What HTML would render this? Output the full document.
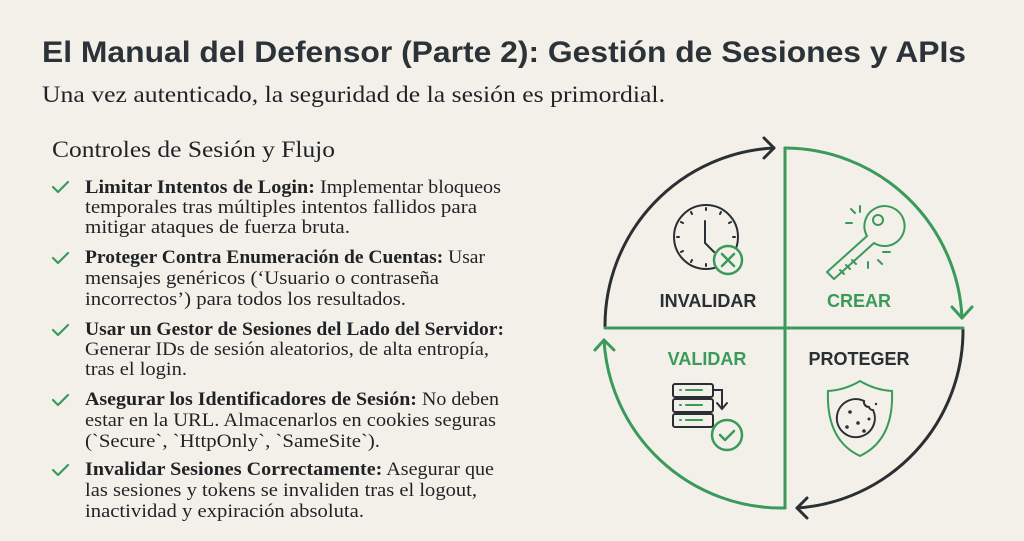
<!DOCTYPE html>
<html><head><meta charset="utf-8"><style>
html,body{margin:0;padding:0;background:#f3f0e9;}
svg{display:block}
.s{font-family:"Liberation Serif",serif;fill:#1f2326}
</style></head><body>
<svg width="1024" height="541" viewBox="0 0 1024 541" xmlns="http://www.w3.org/2000/svg">
<rect width="1024" height="541" fill="#f3f0e9"/>
<text x="42" y="62" font-family="Liberation Sans,sans-serif" font-weight="bold" font-size="30" fill="#2b3238" textLength="924" lengthAdjust="spacingAndGlyphs">El Manual del Defensor (Parte 2): Gestión de Sesiones y APIs</text>
<text x="42" y="102" class="s" font-size="23" textLength="623" lengthAdjust="spacingAndGlyphs">Una vez autenticado, la seguridad de la sesión es primordial.</text>
<text x="52" y="157" class="s" font-size="23" textLength="283" lengthAdjust="spacingAndGlyphs">Controles de Sesión y Flujo</text>
<g fill="none" stroke="#3a9a5a" stroke-width="2.2" stroke-linecap="round" stroke-linejoin="round">
<path d="M53 187 l5 5 l10 -10"/><path d="M53 258 l5 5 l10 -10"/><path d="M53 330 l5 5 l10 -10"/><path d="M53 400 l5 5 l10 -10"/><path d="M53 470 l5 5 l10 -10"/>
</g>
<g class="s" font-size="19" lengthAdjust="spacingAndGlyphs">
<text x="85" y="193" textLength="416" lengthAdjust="spacingAndGlyphs"><tspan font-weight="bold">Limitar Intentos de Login:</tspan> Implementar bloqueos</text>
<text x="85" y="213" textLength="392" lengthAdjust="spacingAndGlyphs">temporales tras múltiples intentos fallidos para</text>
<text x="85" y="233" textLength="265" lengthAdjust="spacingAndGlyphs">mitigar ataques de fuerza bruta.</text>
<text x="85" y="263" textLength="400" lengthAdjust="spacingAndGlyphs"><tspan font-weight="bold">Proteger Contra Enumeración de Cuentas:</tspan> Usar</text>
<text x="85" y="284" textLength="354" lengthAdjust="spacingAndGlyphs">mensajes genéricos (‘Usuario o contraseña</text>
<text x="85" y="305" textLength="321" lengthAdjust="spacingAndGlyphs">incorrectos’) para todos los resultados.</text>
<text x="85" y="335" font-weight="bold" textLength="419" lengthAdjust="spacingAndGlyphs">Usar un Gestor de Sesiones del Lado del Servidor:</text>
<text x="85" y="355" textLength="404" lengthAdjust="spacingAndGlyphs">Generar IDs de sesión aleatorios, de alta entropía,</text>
<text x="85" y="375" textLength="102" lengthAdjust="spacingAndGlyphs">tras el login.</text>
<text x="85" y="405" textLength="414" lengthAdjust="spacingAndGlyphs"><tspan font-weight="bold">Asegurar los Identificadores de Sesión:</tspan> No deben</text>
<text x="85" y="426" textLength="411" lengthAdjust="spacingAndGlyphs">estar en la URL. Almacenarlos en cookies seguras</text>
<text x="85" y="447" textLength="295" lengthAdjust="spacingAndGlyphs">(`Secure`, `HttpOnly`, `SameSite`).</text>
<text x="85" y="475" textLength="409" lengthAdjust="spacingAndGlyphs"><tspan font-weight="bold">Invalidar Sesiones Correctamente:</tspan> Asegurar que</text>
<text x="85" y="496" textLength="392" lengthAdjust="spacingAndGlyphs">las sesiones y tokens se invaliden tras el logout,</text>
<text x="85" y="517" textLength="279" lengthAdjust="spacingAndGlyphs">inactividad y expiración absoluta.</text>
</g>
<g fill="none" stroke-width="3" stroke-linecap="round" stroke-linejoin="round">
<path d="M605 326 A178 178 0 0 1 774 148" stroke="#2a2f33"/>
<path d="M764 138 l10 10 l-10 10" stroke="#2a2f33"/>
<path d="M785 148 A178 178 0 0 1 962 318" stroke="#3a9a5a"/>
<path d="M952 307 l10 11 l10 -11" stroke="#3a9a5a"/>
<path d="M963 330 A178 178 0 0 1 797 508" stroke="#2a2f33"/>
<path d="M807 498 l-10 10 l10 10" stroke="#2a2f33"/>
<path d="M785 508 A178 178 0 0 1 604 340" stroke="#3a9a5a"/>
<path d="M595 350 l9 -10 l10 10" stroke="#3a9a5a"/>
<path d="M785 148 V508 M605 328 H963" stroke="#3a9a5a"/>
</g>
<g font-family="Liberation Sans,sans-serif" font-weight="bold" font-size="18" text-anchor="middle">
<text x="708" y="307" fill="#2a2f33">INVALIDAR</text>
<text x="859" y="307" fill="#3a9a5a">CREAR</text>
<text x="707" y="365" fill="#3a9a5a">VALIDAR</text>
<text x="859" y="365" fill="#2a2f33">PROTEGER</text>
</g>
<g fill="none" stroke="#2a2f33" stroke-width="2" stroke-linecap="round">
<circle cx="706" cy="237" r="32"/>
<path d="M705 221 V243 L714 252"/>
<path d="M706 208 v2 M735 237 h-2 M677 237 h2 M706 266 v-2 M691 212 l1 2 M721 212 l-1 2 M681 252 l2 -1 M681 222 l2 1 M731 222 l-2 1 M691 262 l1 -2"/>
</g>
<circle cx="728" cy="260" r="14" fill="#f3f0e9" stroke="#3a9a5a" stroke-width="2.5"/>
<path d="M722 254 l12 12 M734 254 l-12 12" stroke="#3a9a5a" stroke-width="2.5" stroke-linecap="round"/>
<g fill="none" stroke="#3a9a5a" stroke-width="2" stroke-linecap="round" stroke-linejoin="round">
<path d="M876 208 a20 20 0 1 1 -2 35 l-40 36 l-7 -7 l40 -36 a20 20 0 0 1 9 -28 z"/>
<path d="M840 270 l4 4 M846 265 l4 4 M852 260 l4 4"/>
<circle cx="878" cy="220" r="5"/>
<path d="M846 223 h6 M851 209 l4 4 M860 206 v6 M883 252 h7 M878 260 l4 4 M868 262 v6"/>
</g>
<g fill="none" stroke="#2a2f33" stroke-width="2" stroke-linecap="round">
<rect x="673" y="384" width="40" height="13" rx="2"/>
<rect x="673" y="399" width="40" height="13" rx="2"/>
<rect x="673" y="414" width="40" height="13" rx="2"/>
<path d="M714 390 h8 v18 M717 403 l5 6 l5 -6"/>
</g>
<g stroke="#3a9a5a" stroke-width="2" stroke-linecap="round"><path d="M680 390 h1 M686 390 h16 M680 405 h1 M686 405 h16 M680 420 h1 M686 420 h16"/></g>
<circle cx="727" cy="435" r="15" fill="#f3f0e9" stroke="#3a9a5a" stroke-width="2.5"/>
<path d="M720 435 l5 5 l9 -9" fill="none" stroke="#3a9a5a" stroke-width="2.5" stroke-linecap="round" stroke-linejoin="round"/>
<path d="M860 381 Q875 390 892 391 Q894 440 860 456 Q826 440 828 391 Q845 390 860 381 Z" fill="none" stroke="#3a9a5a" stroke-width="2"/>
<path d="M873 410 A19 19 0 1 1 864 401 a5 5 0 0 0 5 6 a4 4 0 0 0 4 3 z" fill="none" stroke="#2a2f33" stroke-width="2"/>
<g fill="#2a2f33"><circle cx="850" cy="412" r="1.8"/><circle cx="858" cy="423" r="1.8"/><circle cx="847" cy="427" r="1.8"/><circle cx="864" cy="431" r="1.8"/><circle cx="869" cy="419" r="1.5"/><circle cx="876" cy="404" r="1.2"/></g>
</svg>
</body></html>
